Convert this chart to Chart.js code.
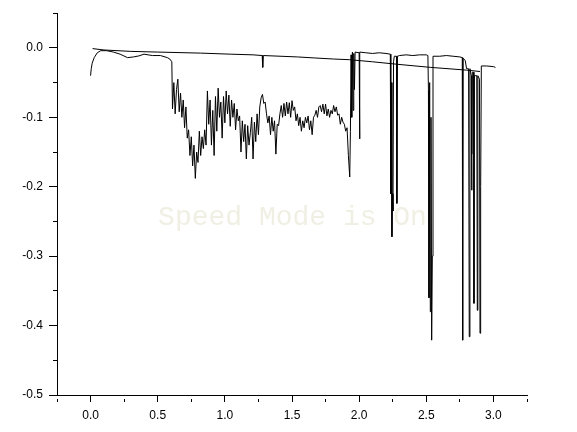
<!DOCTYPE html>
<html>
<head>
<meta charset="utf-8">
<script src="https://cdn.jsdelivr.net/npm/chart.js@4/dist/chart.umd.min.js"></script>
<style>
  body { margin: 0; background: #fff; }
</style>
</head>
<body>
<canvas id="plot" width="577" height="432"></canvas>
<script>
// upper, almost straight trace
const ax = [0.015, 0.100, 0.300, 0.500, 0.820, 1.040, 1.210, 1.278, 1.282, 1.286,
    1.540, 1.670, 1.810, 1.930, 2.100, 2.280, 2.530, 2.800, 2.900];
const ay = [-0.001, -0.003, -0.005, -0.006, -0.0075, -0.009, -0.010, -0.011, -0.028, -0.011,
    -0.013, -0.0145, -0.016, -0.017, -0.020, -0.0235, -0.028, -0.032, -0.034];

// noisy trace
const bx = [
    0.000, 0.005, 0.012, 0.027, 0.050, 0.076, 0.120, 0.170, 0.220, 0.275,
    0.320, 0.360, 0.398, 0.460, 0.520, 0.572, 0.590, 0.605,
    0.61, 0.62, 0.63, 0.64, 0.65, 0.66, 0.67, 0.68, 0.69, 0.70,
    0.71, 0.72, 0.73, 0.74, 0.75, 0.76, 0.77, 0.78, 0.79, 0.80,
    0.81, 0.82, 0.83, 0.84, 0.85, 0.86, 0.87, 0.88, 0.89, 0.90,
    0.91, 0.92, 0.93, 0.94, 0.95, 0.96, 0.97, 0.98, 0.99, 1.00,
    1.01, 1.02, 1.03, 1.04, 1.05, 1.06, 1.07, 1.08, 1.09, 1.10,
    1.11, 1.12, 1.13, 1.14, 1.15, 1.16, 1.17, 1.18, 1.19, 1.20,
    1.21, 1.22, 1.23, 1.24, 1.25, 1.26, 1.27, 1.28, 1.29, 1.30,
    1.31, 1.32, 1.33, 1.34, 1.35, 1.36, 1.37, 1.38, 1.39, 1.40,
    1.41, 1.42, 1.43, 1.44, 1.45, 1.46, 1.47, 1.48, 1.49, 1.50,
    1.51, 1.52, 1.53, 1.54, 1.55, 1.56, 1.57, 1.58, 1.59, 1.60,
    1.61, 1.62, 1.63, 1.64, 1.65, 1.66, 1.67, 1.68, 1.69, 1.70,
    1.71, 1.72, 1.73, 1.74, 1.75, 1.76, 1.77, 1.78, 1.79, 1.80,
    1.81, 1.82, 1.83, 1.84, 1.85, 1.86, 1.87, 1.88, 1.89, 1.90,
    1.91, 1.92, 1.93, 1.935, 1.940, 1.945, 1.950, 1.955, 1.960, 1.965,
    1.970, 2.000, 2.003, 2.006, 2.050, 2.100, 2.150, 2.200, 2.232, 2.236,
    2.240, 2.244, 2.248, 2.252, 2.256, 2.262, 2.278, 2.281, 2.285, 2.300,
    2.350, 2.400, 2.450, 2.500, 2.512, 2.516, 2.520, 2.525, 2.530, 2.535,
    2.540, 2.545, 2.550, 2.600, 2.650, 2.700, 2.750, 2.768, 2.771, 2.774,
    2.790, 2.800, 2.815, 2.820, 2.825, 2.835, 2.838, 2.840, 2.843, 2.852,
    2.855, 2.858, 2.876, 2.880, 2.884, 2.896, 2.900, 2.905, 2.910, 2.950,
    3.000, 3.015
];
const by = [
    -0.040, -0.030, -0.022, -0.014, -0.007, -0.004, -0.004, -0.006, -0.009, -0.014,
    -0.013, -0.0115, -0.009, -0.011, -0.011, -0.014, -0.016, -0.020,
    -0.088, -0.050, -0.095, -0.060, -0.045, -0.092, -0.065, -0.100, -0.075, -0.115,
    -0.085, -0.130, -0.118, -0.155, -0.128, -0.170, -0.140, -0.188, -0.150, -0.165,
    -0.120, -0.155, -0.128, -0.145, -0.118, -0.140, -0.062, -0.110, -0.075, -0.140,
    -0.090, -0.155, -0.070, -0.120, -0.058, -0.100, -0.078, -0.130, -0.070, -0.108,
    -0.062, -0.095, -0.068, -0.113, -0.075, -0.100, -0.080, -0.118, -0.088, -0.105,
    -0.098, -0.150, -0.105, -0.135, -0.110, -0.160, -0.112, -0.140, -0.122, -0.100,
    -0.160, -0.107, -0.135, -0.095, -0.125, -0.085, -0.072, -0.067, -0.080, -0.078,
    -0.095, -0.108, -0.098, -0.125, -0.100, -0.120, -0.105, -0.153, -0.110, -0.112,
    -0.095, -0.083, -0.100, -0.080, -0.098, -0.078, -0.095, -0.079, -0.100, -0.076,
    -0.090, -0.085, -0.105, -0.095, -0.112, -0.100, -0.120, -0.105, -0.115, -0.100,
    -0.108, -0.098, -0.118, -0.105, -0.125, -0.100, -0.097, -0.090, -0.100, -0.085,
    -0.083, -0.092, -0.081, -0.095, -0.081, -0.098, -0.088, -0.100, -0.090, -0.095,
    -0.083, -0.092, -0.085, -0.097, -0.095, -0.110, -0.100, -0.107, -0.110, -0.120,
    -0.115, -0.155, -0.186, -0.120, -0.010, -0.100, -0.006, -0.090, -0.008, -0.060,
    -0.006, -0.007, -0.131, -0.006, -0.007, -0.008, -0.007, -0.008, -0.009, -0.210,
    -0.050, -0.272, -0.210, -0.235, -0.020, -0.012, -0.012, -0.224, -0.012, -0.011,
    -0.010, -0.011, -0.010, -0.010, -0.011, -0.060, -0.360, -0.050, -0.380, -0.100,
    -0.421, -0.300, -0.012, -0.012, -0.011, -0.012, -0.013, -0.014, -0.421, -0.015,
    -0.018, -0.030, -0.030, -0.416, -0.030, -0.040, -0.205, -0.153, -0.035, -0.035,
    -0.368, -0.040, -0.040, -0.378, -0.040, -0.045, -0.411, -0.200, -0.026, -0.026,
    -0.027, -0.028
];

const xMin = -0.25, xMax = 3.25;
const yMin = -0.5, yMax = 0.05;

function pts(xs, ys) {
    return xs.map((x, i) => ({ x: x, y: ys[i] }));
}

// minor ticks: only the inner half of the tick line is drawn
function isMajor(v, step) {
    return Math.abs(v / step - Math.round(v / step)) < 1e-6;
}

const watermark = {
    id: 'watermark',
    beforeDatasetsDraw(chart) {
        const ctx = chart.ctx;
        const a = chart.chartArea;
        ctx.save();
        ctx.font = '28px "Liberation Mono", monospace';
        ctx.fillStyle = '#f0efe3';
        ctx.textAlign = 'center';
        ctx.textBaseline = 'alphabetic';
        ctx.fillText('Speed Mode is On', (a.left + a.right) / 2 + 0.5, a.top + 212);
        ctx.restore();
    }
};

const lineStyle = {
    borderColor: '#000',
    borderWidth: 1,
    pointRadius: 0,
    tension: 0,
    fill: false
};

new Chart(document.getElementById('plot'), {
    type: 'line',
    data: {
        datasets: [
            Object.assign({ data: pts(ax, ay) }, lineStyle),
            Object.assign({ data: pts(bx, by) }, lineStyle)
        ]
    },
    options: {
        responsive: false,
        animation: false,
        layout: { padding: { top: 13, right: 50, left: 0, bottom: 0 } },
        plugins: {
            legend: { display: false },
            tooltip: { enabled: false }
        },
        scales: {
            x: {
                type: 'linear',
                min: xMin,
                max: xMax,
                afterFit: s => { s.height = 37; },
                border: { display: true, color: '#000', width: 1 },
                grid: {
                    drawOnChartArea: false,
                    tickLength: 7,
                    tickColor: '#000',
                    tickBorderDash: c => isMajor(c.tick.value, 0.5) ? [] : [3, 4],
                    tickBorderDashOffset: c => isMajor(c.tick.value, 0.5) ? 0 : 4
                },
                ticks: {
                    stepSize: 0.25,
                    autoSkip: false,
                    maxRotation: 0,
                    padding: 6,
                    color: '#000',
                    font: { family: 'Arial, "Liberation Sans"', size: 12 },
                    callback: v => isMajor(v, 0.5) ? v.toFixed(1) : ''
                }
            },
            y: {
                type: 'linear',
                min: yMin,
                max: yMax,
                afterFit: s => { s.width = 57; },
                border: { display: true, color: '#000', width: 1 },
                grid: {
                    drawOnChartArea: false,
                    tickLength: 8,
                    tickColor: '#000',
                    tickBorderDash: c => isMajor(c.tick.value, 0.1) ? [] : [4, 4],
                    tickBorderDashOffset: c => isMajor(c.tick.value, 0.1) ? 0 : 4
                },
                ticks: {
                    stepSize: 0.05,
                    autoSkip: false,
                    padding: 6,
                    color: '#000',
                    font: { family: 'Arial, "Liberation Sans"', size: 12 },
                    callback: v => isMajor(v, 0.1) ? (Math.round(v * 10) / 10).toFixed(1) : ''
                }
            }
        }
    },
    plugins: [watermark]
});
</script>
</body>
</html>
